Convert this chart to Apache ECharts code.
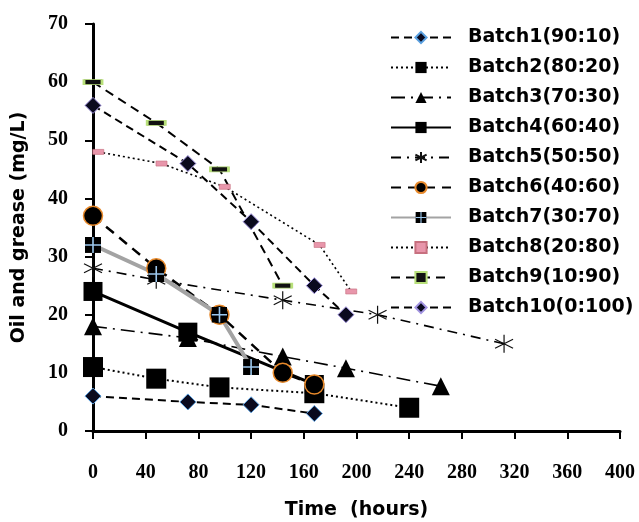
<!DOCTYPE html>
<html>
<head>
<meta charset="utf-8">
<script src="https://cdn.jsdelivr.net/npm/echarts@6/dist/echarts.min.js"></script>
<style>
  html, body { margin: 0; padding: 0; background: #fff; }
  #chart { width: 639px; height: 522px; }
</style>
</head>
<body>
<div id="chart"></div>
<script>
// time (hours) and oil & grease (mg/L)
const batchNames = [
  'Batch1(90:10)', 'Batch2(80:20)', 'Batch3(70:30)', 'Batch4(60:40)', 'Batch5(50:50)',
  'Batch6(40:60)', 'Batch7(30:70)', 'Batch8(20:80)', 'Batch9(10:90)', 'Batch10(0:100)'
];
const timeB1 = [0, 72, 120, 168];
const oilB1 = [6, 5, 4.5, 3];
const timeB2 = [0, 48, 96, 168, 240];
const oilB2 = [11, 9, 7.5, 6.5, 4];
const timeB3 = [0, 72, 144, 192, 264];
const oilB3 = [18, 16, 12.8, 10.8, 7.7];
const timeB4 = [0, 72, 168];
const oilB4 = [24, 17, 8];
const timeB5 = [0, 48, 144, 216, 312];
const oilB5 = [28, 26, 22.5, 20, 15];
const timeB6 = [0, 48, 96, 144, 168];
const oilB6 = [37, 28, 20, 10, 8];
const timeB7 = [0, 48, 96, 120];
const oilB7 = [32, 27, 20, 11];
const timeB8 = [4, 52, 100, 172, 196];
const oilB8 = [48, 46, 42, 32, 24];
const timeB9 = [0, 48, 96, 144];
const oilB9 = [60, 53, 45, 25];
const timeB10 = [0, 72, 120, 168, 192];
const oilB10 = [56, 46, 36, 25, 20];

const xTicks = { min: 0, max: 400, interval: 40 };
const yTicks = { min: 0, max: 70, interval: 10 };

function pairs(t, v) {
  return t.map((x, i) => [x, v[i]]);
}

const crossSquare = 'image://data:image/svg+xml;charset=utf-8,' + encodeURIComponent(
  "<svg xmlns='http://www.w3.org/2000/svg' width='16' height='16'>" +
  "<rect width='16' height='16' fill='#000'/>" +
  "<path d='M8 0V16M0 8H16' stroke='#9cc8ee' stroke-width='1.6'/></svg>"
);
const star = 'path://M0,-10L0,10M-8.7,-5L8.7,5M-8.7,5L8.7,-5';

const serif = '"Liberation Serif", serif';
const sans = '"DejaVu Sans", sans-serif';

const chart = echarts.init(document.getElementById('chart'));

function line(name, data, lineStyle, symbol, symbolSize, itemStyle) {
  return {
    name, type: 'line', data, symbol, symbolSize,
    lineStyle: Object.assign({ color: '#000' }, lineStyle),
    itemStyle,
    emphasis: { disabled: true },
  };
}

chart.setOption({
  animation: false,
  backgroundColor: '#fff',
  grid: { left: 93, right: 19, top: 24, bottom: 91, outerBoundsMode: 'none' },
  legend: {
    orient: 'vertical',
    left: 385,
    top: 23,
    itemWidth: 60,
    itemHeight: 14,
    itemGap: 11,
    textStyle: { fontFamily: sans, fontWeight: 'bold', fontSize: 19, color: '#000', padding: [0, 0, 0, 12] },
  },
  xAxis: {
    type: 'value',
    min: xTicks.min, max: xTicks.max, interval: xTicks.interval,
    name: 'Time  (hours)',
    nameLocation: 'middle',
    nameGap: 70,
    nameTextStyle: { fontFamily: sans, fontWeight: 'bold', fontSize: 19, color: '#000' },
    axisLine: { onZero: false, lineStyle: { color: '#000', width: 3 } },
    axisTick: { length: 8, lineStyle: { color: '#000', width: 2 } },
    axisLabel: { fontFamily: serif, fontWeight: 'bold', fontSize: 20, color: '#000', margin: 32 },
    splitLine: { show: false },
  },
  yAxis: {
    type: 'value',
    min: yTicks.min, max: yTicks.max, interval: yTicks.interval,
    name: 'Oil and grease (mg/L)',
    nameLocation: 'middle',
    nameGap: 64,
    nameTextStyle: { fontFamily: sans, fontWeight: 'bold', fontSize: 19, color: '#000' },
    axisLine: { show: true, lineStyle: { color: '#000', width: 3 } },
    axisTick: { show: true, length: 8, lineStyle: { color: '#000', width: 2 } },
    axisLabel: { fontFamily: serif, fontWeight: 'bold', fontSize: 20, color: '#000', margin: 25 },
    splitLine: { show: false },
  },
  series: [
    line(batchNames[0], pairs(timeB1, oilB1), { width: 2, type: [8, 5] }, 'diamond', 16,
      { color: '#0a0a1e', borderColor: '#5aa0e0', borderWidth: 1 }),
    line(batchNames[1], pairs(timeB2, oilB2), { width: 2, type: [2, 3] }, 'rect', 20,
      { color: '#000', borderColor: '#000', borderWidth: 0 }),
    line(batchNames[2], pairs(timeB3, oilB3), { width: 1.6, type: [14, 6, 2, 6] }, 'triangle', 18,
      { color: '#000' }),
    line(batchNames[3], pairs(timeB4, oilB4), { width: 3, type: 'solid' }, 'rect', 19,
      { color: '#000' }),
    line(batchNames[4], pairs(timeB5, oilB5), { width: 1.6, type: [10, 6, 2, 6] }, star, 18,
      { color: '#000', borderColor: '#111', borderWidth: 1.2 }),
    line(batchNames[5], pairs(timeB6, oilB6), { width: 2.5, type: [10, 7] }, 'circle', 19,
      { color: '#000', borderColor: '#e8892a', borderWidth: 1.5 }),
    line(batchNames[6], pairs(timeB7, oilB7), { width: 4, color: '#a3a3a3', type: 'solid' }, crossSquare, 16,
      { color: '#000' }),
    line(batchNames[7], pairs(timeB8, oilB8), { width: 1.6, type: [2, 3] }, 'rect', [11, 5],
      { color: '#e896ab', borderColor: '#c7707f', borderWidth: 0.6 }),
    line(batchNames[8], pairs(timeB9, oilB9), { width: 2, type: [9, 6] }, 'rect', [18, 5],
      { color: '#111', borderColor: '#b8e07a', borderWidth: 1.5 }),
    line(batchNames[9], pairs(timeB10, oilB10), { width: 2, type: [8, 5] }, 'diamond', 16,
      { color: '#0a0a1e', borderColor: '#a193e0', borderWidth: 1 }),
  ],
});
</script>
</body>
</html>
